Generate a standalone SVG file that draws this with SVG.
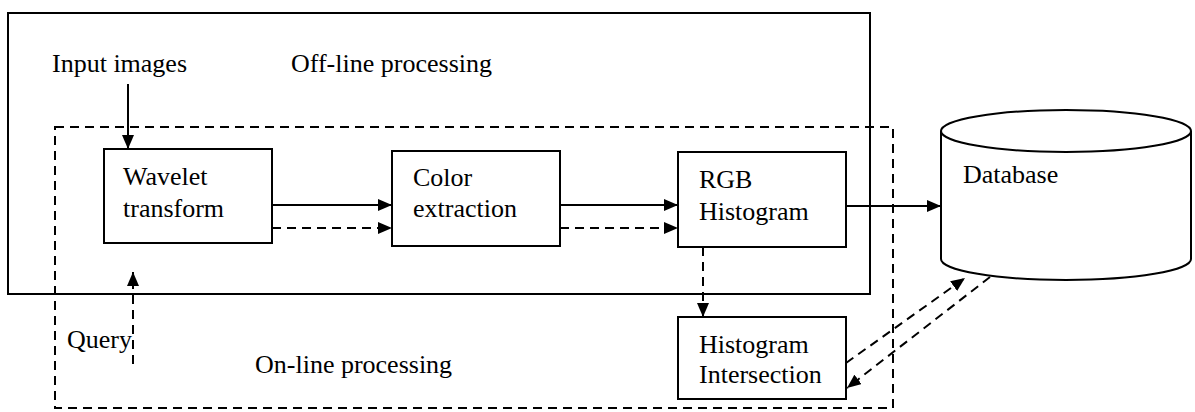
<svg xmlns="http://www.w3.org/2000/svg" width="1195" height="412" viewBox="0 0 1195 412">
  <style>
    .box { fill: #fff; stroke: #000; stroke-width: 2; }
    .frame { fill: none; stroke: #000; stroke-width: 2; }
    .dash { stroke-dasharray: 9 6; }
    .line { fill: none; stroke: #000; stroke-width: 2; }
    text { font-family: "Liberation Serif", "Times New Roman", serif; font-size: 26px; fill: #000; }
  </style>
  <defs>
    <marker id="arrow" viewBox="0 0 14 12" refX="14" refY="6" markerWidth="14" markerHeight="12" markerUnits="userSpaceOnUse" orient="auto">
      <path d="M0,0 L14,6 L0,12 Z" fill="#000"/>
    </marker>
  </defs>

  <!-- processing regions -->
  <g id="offline-region">
    <rect class="frame" x="8" y="13" width="862" height="281"/>
    <text x="291" y="72">Off-line processing</text>
  </g>
  <g id="online-region">
    <rect class="frame dash" x="55" y="127" width="838" height="281"/>
    <text x="255" y="373">On-line processing</text>
  </g>

  <g id="input-label">
    <text x="52" y="72">Input images</text>
  </g>
  <g id="query-label">
    <text x="67" y="348">Query</text>
  </g>

  <g id="wavelet">
    <rect class="box" x="104" y="149" width="168" height="94"/>
    <text x="123" y="185">Wavelet</text>
    <text x="123" y="217">transform</text>
  </g>
  <g id="color">
    <rect class="box" x="392" y="151" width="168" height="95"/>
    <text x="413" y="186">Color</text>
    <text x="413" y="217">extraction</text>
  </g>
  <g id="rgb">
    <rect class="box" x="678" y="152" width="168" height="95"/>
    <text x="699" y="188">RGB</text>
    <text x="699" y="220">Histogram</text>
  </g>
  <g id="intersection">
    <rect class="box" x="678" y="317" width="168" height="82"/>
    <text x="699" y="353">Histogram</text>
    <text x="699" y="383">Intersection</text>
  </g>
  <g id="database">
    <path class="box" d="M941,131 L941,259 A125,21 0 0 0 1191,259 L1191,131 A125,21 0 0 0 941,131 Z"/>
    <path class="line" d="M941,131 A125,21 0 0 0 1191,131"/>
    <text x="963" y="183">Database</text>
  </g>

  <g id="connectors">
    <line class="line" x1="128" y1="84" x2="128" y2="149" marker-end="url(#arrow)"/>
    <line class="line" x1="272" y1="205" x2="392" y2="205" marker-end="url(#arrow)"/>
    <line class="line dash" x1="272" y1="228" x2="392" y2="228" marker-end="url(#arrow)"/>
    <line class="line" x1="560" y1="205" x2="678" y2="205" marker-end="url(#arrow)"/>
    <line class="line dash" x1="560" y1="228" x2="678" y2="228" marker-end="url(#arrow)"/>
    <line class="line" x1="846" y1="206" x2="941" y2="206" marker-end="url(#arrow)"/>
    <line class="line dash" x1="703" y1="247" x2="703" y2="317" marker-end="url(#arrow)"/>
    <line class="line dash" x1="133" y1="364" x2="133" y2="272" marker-end="url(#arrow)"/>
    <line class="line dash" x1="846" y1="363" x2="965" y2="278" marker-end="url(#arrow)"/>
    <line class="line dash" x1="990" y1="277" x2="847" y2="388" marker-end="url(#arrow)"/>
  </g>
</svg>
